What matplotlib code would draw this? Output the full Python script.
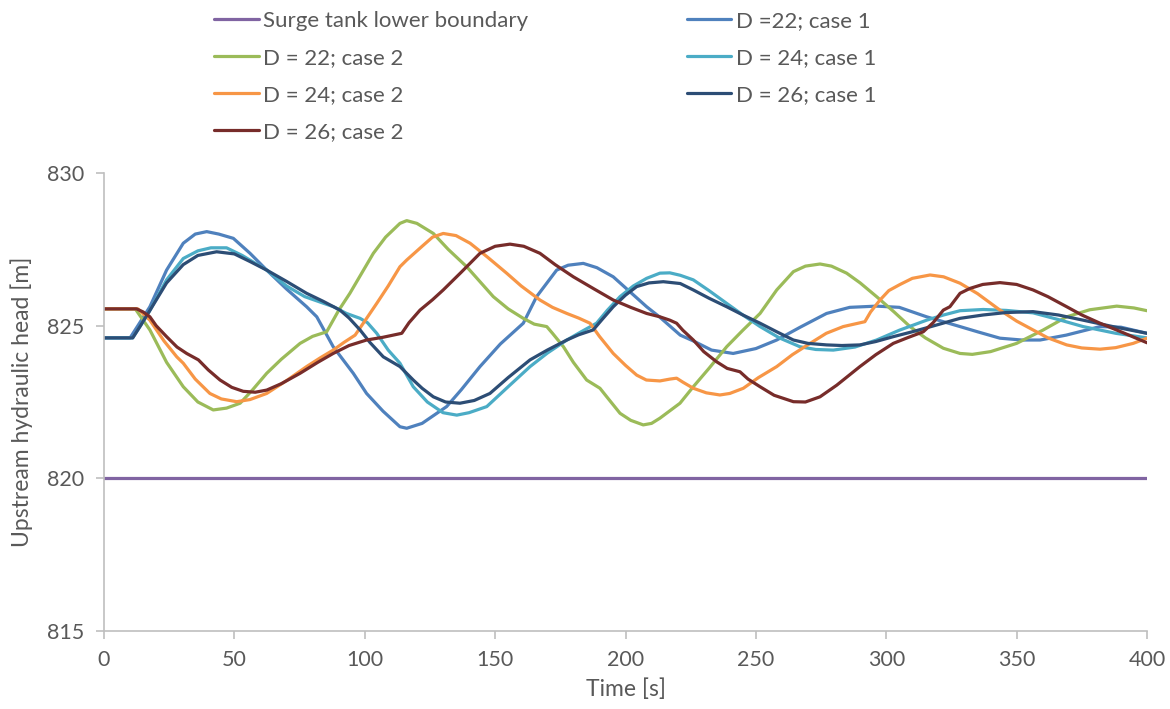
import matplotlib
matplotlib.use("Agg")
import matplotlib.pyplot as plt

plt.rcParams['font.family'] = ['Lato', 'DejaVu Sans']

# Surge tank lower boundary
t_bound = [0, 400]
h_bound = [820, 820]

# D = 22; case 1
t_22_1 = [0, 10, 13, 17.6, 24, 30.4, 35, 39.4, 44, 49.6, 56, 62.4, 70, 77.7, 81.6, 87.9, 95.6,
          100.7, 107, 113.5, 116.1, 122, 131.4, 137, 144.2, 152, 160.8, 165.9, 173.6, 178, 183.8,
          189, 195.3, 208.1, 213, 221, 226, 233, 241.3, 250, 258, 267, 277.1, 286, 296.3, 305,
          315.5, 328.3, 335, 343.6, 352, 359, 369, 382, 390, 400]
h_22_1 = [824.6, 824.6, 825.0, 825.62, 826.82, 827.7, 828.0, 828.08, 828.0, 827.86, 827.37, 826.82,
          826.2, 825.62, 825.29, 824.31, 823.44, 822.78, 822.2, 821.69, 821.64, 821.8, 822.35, 822.9,
          823.66, 824.4, 825.08, 825.95, 826.82, 826.98, 827.04, 826.9, 826.6, 825.62, 825.29, 824.69,
          824.5, 824.2, 824.09, 824.25, 824.53, 824.95, 825.4, 825.6, 825.64, 825.6, 825.29, 824.97,
          824.8, 824.59, 824.53, 824.53, 824.69, 824.97, 824.95, 824.75]

# D = 22; case 2
t_22_2 = [0, 12, 17.6, 24, 30.4, 36, 41.9, 47, 52.2, 57, 62.4, 68, 75.2, 80, 85.4, 90, 94.3, 103.3,
          108, 113.5, 116.1, 120, 126.3, 132, 139.1, 149.3, 155, 160.8, 165, 169.8, 172, 176.2, 180,
          185.1, 190.2, 193, 197.9, 202, 206.8, 210, 213.2, 220.9, 226, 232, 238.8, 245, 251.6, 258,
          264.4, 269, 274.6, 279, 284.8, 290, 296.3, 303, 309.1, 315, 321.9, 328.3, 333, 340, 350,
          360, 369.2, 378, 388.4, 395, 400]
h_22_2 = [825.55, 825.55, 824.86, 823.8, 823.0, 822.5, 822.24, 822.3, 822.46, 822.9, 823.44, 823.9,
          824.42, 824.65, 824.8, 825.5, 826.06, 827.37, 827.9, 828.35, 828.44, 828.35, 828.02, 827.5,
          826.93, 825.95, 825.55, 825.24, 825.05, 824.97, 824.75, 824.31, 823.8, 823.22, 822.95,
          822.65, 822.13, 821.9, 821.75, 821.8, 821.97, 822.46, 823.0, 823.6, 824.31, 824.85, 825.4,
          826.17, 826.77, 826.95, 827.02, 826.95, 826.72, 826.4, 825.95, 825.45, 824.97, 824.6,
          824.26, 824.09, 824.06, 824.15, 824.42, 824.85, 825.29, 825.52, 825.64, 825.58, 825.49]

# D = 24; case 1
t_24_1 = [0, 11, 14, 17.6, 24, 30.4, 36, 41, 47, 53, 62.4, 70, 77, 88, 93, 98.2, 101, 104.6, 109,
          113.5, 118.6, 124, 130, 135.3, 140, 146.8, 155, 163.4, 170, 177.5, 183, 188.9, 193, 197.9,
          203, 208.1, 213.2, 217, 221, 226, 232, 238.8, 245, 251.6, 259, 266.9, 273, 279.7, 288,
          296.3, 305, 315.5, 322, 328.3, 337.2, 346, 356.3, 366, 375.5, 388, 400]
h_24_1 = [824.6, 824.6, 825.0, 825.5, 826.5, 827.2, 827.45, 827.55, 827.55, 827.3, 826.82, 826.3,
          825.95, 825.62, 825.4, 825.24, 825.1, 824.75, 824.2, 823.77, 823.0, 822.5, 822.15, 822.07,
          822.15, 822.35, 823.0, 823.66, 824.1, 824.53, 824.8, 825.08, 825.5, 825.95, 826.3, 826.55,
          826.72, 826.73, 826.65, 826.5, 826.15, 825.73, 825.35, 824.97, 824.6, 824.31, 824.22,
          824.2, 824.3, 824.53, 824.85, 825.18, 825.35, 825.49, 825.53, 825.5, 825.42, 825.2,
          824.97, 824.75, 824.6]

# D = 24; case 2
t_24_2 = [0, 13, 17.6, 23, 27.9, 30.4, 35, 40.6, 45, 50.9, 56, 62.4, 70, 77.7, 83, 87.9, 92, 96.3,
          100, 104.6, 109, 113.5, 116.1, 122, 126, 130.1, 135, 140.4, 147, 154.4, 160, 167.2, 172,
          177.5, 182, 186.4, 190, 195.3, 200, 204.3, 208, 213.2, 217, 219.6, 222, 226, 231, 236.2,
          240, 245.2, 251, 258, 264, 270.8, 277, 283.5, 291.8, 294, 297.6, 301, 305.3, 310, 316.8,
          322, 328.3, 335, 343.6, 350, 356.3, 362, 369.2, 375, 382, 388, 394.7, 400]
h_24_2 = [825.55, 825.55, 825.18, 824.5, 823.98, 823.77, 823.25, 822.78, 822.6, 822.51, 822.58,
          822.78, 823.2, 823.66, 823.95, 824.2, 824.45, 824.69, 825.15, 825.73, 826.3, 826.93,
          827.15, 827.6, 827.9, 828.02, 827.95, 827.7, 827.25, 826.72, 826.3, 825.84, 825.6, 825.4,
          825.25, 825.08, 824.65, 824.09, 823.7, 823.38, 823.22, 823.19, 823.25, 823.28, 823.15,
          822.95, 822.8, 822.73, 822.78, 822.95, 823.3, 823.66, 824.05, 824.42, 824.75, 824.97,
          825.13, 825.45, 825.84, 826.15, 826.35, 826.55, 826.66, 826.6, 826.39, 826.05, 825.51,
          825.15, 824.86, 824.6, 824.37, 824.27, 824.23, 824.28, 824.42, 824.59]

# D = 26; case 1
t_26_1 = [0, 11, 14, 17.6, 24, 30.4, 36, 43.2, 50, 56, 62.4, 70, 77.7, 84, 90.5, 94, 98.2, 102,
          107.1, 113.5, 118.6, 122, 126.3, 131, 136.5, 142, 148, 155, 163.4, 170, 177.5, 182, 187.6,
          191, 195.3, 200, 204.3, 209, 214.5, 221, 226, 232, 238.8, 245, 251.6, 258, 264.4, 270,
          277.1, 283, 289.9, 296, 302.7, 310, 318, 328.3, 337.2, 346, 356.3, 366, 375.5, 388, 400]
h_26_1 = [824.6, 824.6, 825.0, 825.5, 826.4, 827.0, 827.3, 827.42, 827.35, 827.1, 826.82, 826.45,
          826.06, 825.8, 825.51, 825.25, 824.86, 824.45, 823.98, 823.66, 823.22, 822.95, 822.67,
          822.5, 822.46, 822.55, 822.78, 823.3, 823.88, 824.2, 824.53, 824.7, 824.86, 825.2, 825.62,
          826.0, 826.28, 826.4, 826.44, 826.38, 826.17, 825.9, 825.62, 825.35, 825.08, 824.8,
          824.53, 824.42, 824.37, 824.35, 824.37, 824.48, 824.64, 824.8, 824.99, 825.24, 825.35,
          825.43, 825.46, 825.35, 825.18, 824.95, 824.75]

# D = 26; case 2
t_26_2 = [0, 12.5, 15, 17.6, 20, 24, 28, 31.7, 36.2, 40, 44.5, 49, 53.4, 58, 62.4, 68, 75.2, 82,
          87.9, 94, 100.7, 107, 114.2, 117, 121.2, 126, 130.1, 137, 144.2, 150, 155.7, 161, 167.2,
          173, 180, 188, 195.3, 202, 208.1, 213.2, 217, 219.6, 222, 226, 230, 234.9, 239, 243.9, 247,
          251.6, 257, 264.4, 269, 274.6, 281, 289.9, 296, 302.7, 308, 314.2, 318, 321.9, 324.4,
          328.3, 332.1, 337, 343.6, 350, 356.3, 362, 369.2, 375, 382, 390, 400]
h_26_2 = [825.55, 825.55, 825.45, 825.29, 825.0, 824.64, 824.3, 824.09, 823.88, 823.55, 823.22,
          822.98, 822.85, 822.82, 822.89, 823.1, 823.44, 823.8, 824.09, 824.35, 824.53, 824.62,
          824.75, 825.1, 825.51, 825.85, 826.17, 826.75, 827.37, 827.6, 827.67, 827.6, 827.37, 827.0,
          826.6, 826.2, 825.84, 825.6, 825.4, 825.29, 825.18, 825.08, 824.85, 824.53, 824.15,
          823.82, 823.6, 823.49, 823.25, 823.0, 822.72, 822.51, 822.5, 822.67, 823.05, 823.66,
          824.05, 824.42, 824.6, 824.8, 825.1, 825.51, 825.62, 826.06, 826.22, 826.35, 826.41,
          826.35, 826.17, 825.95, 825.62, 825.35, 825.08, 824.8, 824.44]

x_ticks = [0, 50, 100, 150, 200, 250, 300, 350, 400]
y_ticks = [815, 820, 825, 830]

series = [
    ("Surge tank lower boundary", t_bound, h_bound, "#8064A2"),
    ("D =22; case 1", t_22_1, h_22_1, "#4F81BD"),
    ("D = 22; case 2", t_22_2, h_22_2, "#9BBB59"),
    ("D = 24; case 1", t_24_1, h_24_1, "#4BACC6"),
    ("D = 24; case 2", t_24_2, h_24_2, "#F79646"),
    ("D = 26; case 1", t_26_1, h_26_1, "#2C4D75"),
    ("D = 26; case 2", t_26_2, h_26_2, "#772C2A"),
]

text_color = "#595959"
axis_color = "#BFBFBF"

fig = plt.figure(figsize=(11.7, 7.09), dpi=100)
ax = fig.add_axes([104 / 1170, 1 - 631 / 709, (1147 - 104) / 1170, (631 - 173) / 709])

handles = {}
for label, t, h, color in series:
    line, = ax.plot(t, h, color=color, lw=2.3, solid_capstyle="round", solid_joinstyle="round")
    handles[label] = line

ax.set_xlim(0, 400)
ax.set_ylim(815, 830)
ax.set_xticks(x_ticks)
ax.set_yticks(y_ticks)
for side in ("top", "right"):
    ax.spines[side].set_visible(False)
for side in ("left", "bottom"):
    ax.spines[side].set_color(axis_color)
    ax.spines[side].set_linewidth(1.2)
ax.tick_params(axis="both", colors=axis_color, labelcolor=text_color, labelsize=15.5,
               length=6, width=1.2, direction="out")
ax.tick_params(axis="y", pad=8)
ax.tick_params(axis="x", pad=8)
ax.set_xlabel("Time [s]", color=text_color, fontsize=16.5, labelpad=6)
ax.set_ylabel("Upstream hydraulic head [m]", color=text_color, fontsize=16.5, labelpad=10)

# legend laid out row by row: left column then right column entries
order = ["Surge tank lower boundary", "D = 22; case 2", "D = 24; case 2", "D = 26; case 2",
         "D =22; case 1", "D = 24; case 1", "D = 26; case 1"]
leg = fig.legend([handles[k] for k in order], order, loc="upper left",
                 bbox_to_anchor=(203 / 1170, 1.0), ncol=2, frameon=False, borderpad=0,
                 fontsize=16, handlelength=2.0, handletextpad=0.2,
                 columnspacing=7.15, labelspacing=0.76, labelcolor=text_color)

fig.savefig("out.png", dpi=100)
